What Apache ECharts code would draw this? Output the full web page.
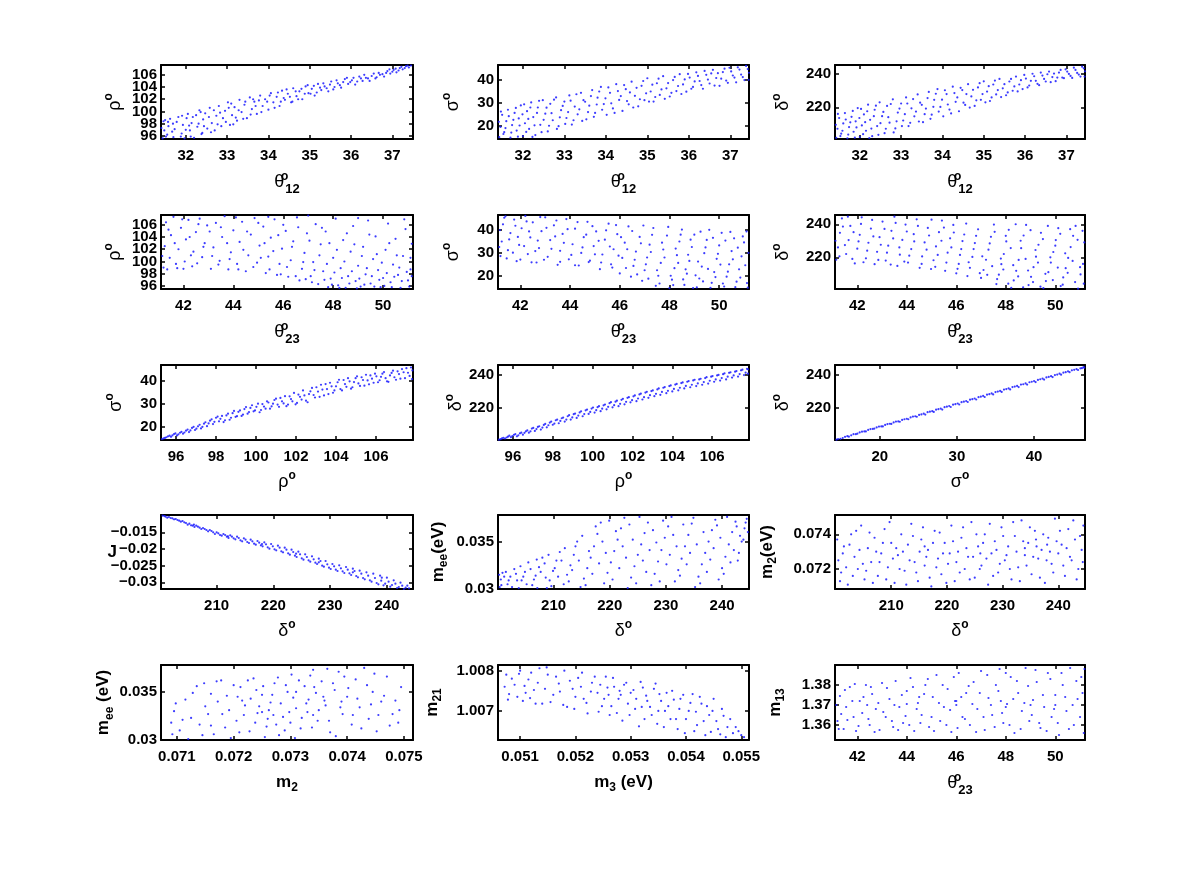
<!DOCTYPE html>
<html lang="en">
  <head>
    <meta charset="UTF-8" />
    <title>Scatter grid</title>
    <script src="https://cdn.jsdelivr.net/npm/echarts@6.0.0/dist/echarts.min.js"></script>
    <style>
      body { margin: 0; background: #fff; }
    </style>
  </head>
  <body>
    <div id="main" style="width: 1199px; height: 872px"></div>
    <script type="text/javascript">
      // tick labels
      const t12Ticks = [32, 33, 34, 35, 36, 37];
      const t23Ticks = [42, 44, 46, 48, 50];
      const rhoTicks = [96, 98, 100, 102, 104, 106];
      const rhoLabelsOdd = [96, 100, 104];   // tight vertical ρ labels are split over two axes
      const rhoLabelsEven = [98, 102, 106];
      const sigmaTicks = [20, 30, 40];
      const deltaYTicks = [220, 240];
      const deltaXTicks = [210, 220, 230, 240];
      const jTicks = [-0.03, -0.025, -0.02, -0.015];
      const meeTicks = [0.03, 0.035];
      const m2YTicks = [0.072, 0.074];
      const m2XTicks = [0.071, 0.072, 0.073, 0.074, 0.075];
      const m3Ticks = [0.051, 0.052, 0.053, 0.054, 0.055];
      const m21Ticks = [1.007, 1.008];
      const m13Ticks = [1.36, 1.37, 1.38];

      // points, [x, y]
      const t12Rho = [[31.44,95.6],[31.48,96.9],[31.46,98.4],[31.55,96.2],[31.58,97.6],[31.62,98.8],[31.7,95.8],[31.73,97.1],[31.78,98.3],[31.82,99.1],[31.9,96.4],[31.93,97.8],[31.97,95.6],[32.02,98.9],[32.05,99.6],[32.1,96.9],[32.14,98.1],[32.2,95.7],[32.25,99.4],[32.28,97.5],[32.33,100.2],[32.38,96.3],[32.42,98.7],[32.47,99.7],[32.52,97.2],[32.58,100.6],[32.63,98.1],[32.7,96.9],[32.74,99.3],[32.8,100.9],[32.86,97.6],[32.9,98.9],[32.95,100.1],[33.02,101.5],[33.07,97.8],[33.12,99.4],[33.18,100.7],[33.24,98.5],[33.3,101.9],[33.35,99.9],[33.42,101.1],[33.48,98.9],[33.55,102.3],[33.6,100.4],[33.66,101.6],[33.72,99.6],[33.8,102.6],[33.86,100.9],[33.92,102.0],[34.0,100.3],[34.06,103.0],[34.12,101.5],[34.2,102.4],[34.27,100.9],[34.33,103.4],[34.4,101.9],[34.47,102.9],[34.55,101.5],[34.6,103.8],[34.68,102.5],[34.75,103.3],[34.82,102.0],[34.9,104.1],[34.97,103.0],[35.05,103.7],[35.12,102.6],[35.2,104.5],[35.28,103.5],[35.36,104.1],[35.45,103.3],[35.52,104.9],[35.6,104.0],[35.68,104.6],[35.76,103.9],[35.85,105.3],[35.93,104.5],[36.02,105.1],[36.1,104.4],[36.2,105.7],[36.28,105.0],[36.36,105.5],[36.45,105.0],[36.55,106.2],[36.62,105.6],[36.7,106.0],[36.8,105.7],[36.88,106.6],[36.95,106.2],[37.03,106.8],[37.1,106.4],[37.18,107.1],[37.25,106.9],[37.33,107.4],[37.4,107.2],[37.45,107.5],
        [31.41,97.3],[31.52,95.9],[31.57,98.3],[31.67,96.7],[31.69,98.0],[31.88,95.9],[31.91,99.3],[32.08,97.7],[32.12,95.9],[32.17,99.1],[32.31,98.0],[32.36,99.9],[32.44,97.6],[32.56,99.1],[32.61,96.6],[32.68,100.2],[32.77,97.9],[32.83,99.8],[32.97,98.3],[33.04,100.6],[33.1,101.3],[33.21,99.0],[33.28,100.2],[33.39,98.8],[33.44,101.6],[33.57,99.5],[33.63,102.0],[33.69,100.9],[33.77,101.8],[33.83,99.9],[33.97,101.6],[34.03,102.6],[34.15,100.6],[34.23,103.1],[34.3,101.6],[34.37,102.2],[34.44,103.6],[34.52,102.4],[34.58,101.6],[34.66,103.3],[34.72,102.0],[34.8,103.7],[34.88,102.9],[34.95,104.3],[35.02,102.9],[35.1,104.2],[35.17,103.1],[35.25,103.9],[35.33,104.6],[35.41,103.8],[35.49,104.4],[35.57,103.6],[35.65,105.1],[35.73,104.3],[35.81,104.8],[35.9,105.5],[35.98,104.8],[36.06,105.5],[36.15,104.9],[36.24,105.4],[36.32,106.0],[36.41,105.4],[36.5,105.8],[36.59,105.4],[36.67,106.3],[36.76,106.1],[36.85,106.3],[36.93,106.9],[37.0,106.5],[37.08,107.0],[37.15,106.7],[37.22,107.3],[37.3,107.1],[37.37,107.5],[31.5,98.6],[32.0,97.0],[32.4,96.5],[33.15,97.9]];
      const t12Sigma = [[31.43,15.0],[31.46,19.5],[31.5,24.8],[31.55,17.2],[31.6,22.0],[31.64,27.0],[31.7,14.8],[31.74,20.3],[31.8,25.6],[31.85,17.9],[31.9,23.2],[31.95,28.9],[32.0,15.5],[32.05,21.1],[32.1,26.4],[32.15,18.6],[32.2,30.2],[32.25,23.8],[32.3,15.9],[32.36,28.0],[32.42,20.4],[32.48,31.2],[32.54,25.3],[32.6,17.5],[32.66,29.6],[32.72,22.4],[32.8,32.4],[32.86,19.8],[32.92,26.8],[33.0,30.6],[33.05,23.4],[33.12,33.3],[33.18,20.5],[33.25,28.4],[33.32,25.0],[33.4,34.4],[33.46,31.2],[33.53,22.8],[33.6,28.8],[33.67,35.6],[33.74,25.6],[33.8,32.3],[33.88,37.0],[33.95,29.5],[34.02,24.8],[34.1,34.4],[34.17,27.6],[34.25,38.2],[34.32,31.3],[34.4,26.5],[34.48,36.0],[34.55,29.4],[34.62,39.3],[34.7,33.1],[34.78,28.5],[34.86,37.5],[34.93,31.2],[35.0,40.8],[35.08,35.0],[35.15,30.6],[35.23,38.6],[35.3,33.5],[35.38,41.7],[35.46,36.4],[35.54,32.8],[35.62,40.0],[35.7,35.2],[35.78,42.6],[35.86,38.1],[35.94,34.9],[36.02,41.1],[36.1,37.0],[36.18,43.4],[36.26,39.6],[36.34,36.2],[36.42,42.3],[36.5,38.5],[36.58,44.5],[36.66,40.9],[36.74,37.5],[36.82,43.5],[36.9,39.8],[36.98,45.4],[37.06,42.0],[37.14,39.0],[37.22,44.6],[37.3,41.3],[37.38,46.2],[37.45,43.2],[37.44,40.1],
        [31.42,21.7],[31.47,26.2],[31.53,16.4],[31.58,19.0],[31.66,24.2],[31.72,17.0],[31.77,22.6],[31.83,27.8],[31.88,15.2],[31.92,20.1],[31.99,25.0],[32.03,29.4],[32.08,17.3],[32.13,23.0],[32.18,28.0],[32.23,15.1],[32.28,20.2],[32.34,25.6],[32.39,30.9],[32.45,17.2],[32.5,22.6],[32.57,27.9],[32.63,20.0],[32.69,25.5],[32.75,31.4],[32.82,18.6],[32.89,23.7],[32.96,28.7],[33.02,20.8],[33.09,26.0],[33.15,31.0],[33.22,22.4],[33.29,33.8],[33.36,27.2],[33.43,22.1],[33.5,30.5],[33.57,26.0],[33.64,33.0],[33.71,23.9],[33.78,29.3],[33.84,35.0],[33.91,27.0],[33.99,32.0],[34.06,36.8],[34.13,29.8],[34.21,25.6],[34.29,35.2],[34.36,33.0],[34.44,37.8],[34.51,30.8],[34.58,34.6],[34.66,28.0],[34.74,36.6],[34.82,31.6],[34.9,39.6],[34.97,34.2],[35.04,30.6],[35.12,38.0],[35.19,32.6],[35.27,40.6],[35.34,35.9],[35.42,31.8],[35.5,38.7],[35.58,34.4],[35.66,41.4],[35.74,37.4],[35.82,33.9],[35.9,40.3],[35.98,42.7],[36.06,36.2],[36.14,39.4],[36.22,41.8],[36.3,37.8],[36.38,44.0],[36.46,40.2],[36.54,42.9],[36.62,37.6],[36.7,43.0],[36.78,40.6],[36.86,45.0],[36.94,38.8],[37.02,43.8],[37.1,41.1],[37.18,45.6],[37.26,42.4],[37.34,40.0],[37.42,44.8]];
      const t12Delta = [[31.43,201.5],[31.46,207.0],[31.5,213.5],[31.55,204.0],[31.6,210.2],[31.64,216.5],[31.7,201.2],[31.74,208.0],[31.8,214.2],[31.85,205.2],[31.9,211.5],[31.95,219.5],[32.0,202.0],[32.05,209.0],[32.1,215.7],[32.15,205.8],[32.2,221.6],[32.25,212.4],[32.3,202.5],[32.36,218.5],[32.42,208.6],[32.48,223.0],[32.54,214.6],[32.6,204.3],[32.66,220.8],[32.72,210.7],[32.8,224.8],[32.86,207.2],[32.92,216.8],[33.0,222.3],[33.05,212.0],[33.12,226.0],[33.18,208.6],[33.25,219.4],[33.32,214.5],[33.4,227.8],[33.46,222.8],[33.53,211.0],[33.6,219.2],[33.67,229.3],[33.74,215.5],[33.8,224.5],[33.88,231.0],[33.95,220.2],[34.02,214.5],[34.1,228.0],[34.17,218.6],[34.25,232.5],[34.32,223.3],[34.4,217.6],[34.48,230.4],[34.55,221.4],[34.62,234.0],[34.7,226.6],[34.78,220.8],[34.86,232.0],[34.93,224.5],[35.0,235.7],[35.08,229.5],[35.15,223.8],[35.23,233.8],[35.3,227.8],[35.38,237.2],[35.46,231.5],[35.54,227.3],[35.62,235.6],[35.7,230.0],[35.78,238.6],[35.86,233.8],[35.94,231.0],[36.02,237.4],[36.1,233.2],[36.18,240.3],[36.26,236.0],[36.34,233.4],[36.42,239.2],[36.5,235.6],[36.58,241.6],[36.66,238.3],[36.74,235.8],[36.82,241.0],[36.9,238.0],[36.98,243.0],[37.06,240.2],[37.14,237.8],[37.22,242.6],[37.3,239.8],[37.38,244.6],[37.45,241.8],[37.44,238.6],
        [31.42,209.4],[31.47,216.0],[31.53,202.6],[31.58,205.8],[31.66,212.6],[31.72,203.5],[31.77,210.9],[31.83,217.8],[31.88,201.6],[31.92,207.8],[31.99,213.5],[32.03,219.0],[32.08,203.7],[32.13,211.0],[32.18,217.6],[32.23,201.4],[32.28,207.1],[32.34,214.6],[32.39,221.0],[32.45,203.3],[32.5,210.4],[32.57,217.2],[32.63,207.0],[32.69,214.0],[32.75,222.0],[32.82,204.8],[32.89,211.5],[32.96,219.2],[33.02,208.6],[33.09,215.8],[33.15,222.3],[33.22,210.6],[33.29,225.0],[33.36,217.4],[33.43,211.4],[33.5,221.5],[33.57,215.8],[33.64,225.6],[33.71,213.0],[33.78,220.3],[33.84,228.2],[33.91,217.4],[33.99,224.6],[34.06,230.3],[34.13,221.7],[34.21,216.3],[34.29,228.6],[34.36,226.0],[34.44,231.8],[34.51,222.8],[34.58,228.0],[34.66,219.8],[34.74,230.6],[34.82,224.2],[34.9,234.6],[34.97,228.0],[35.04,223.0],[35.12,232.8],[35.19,226.0],[35.27,236.2],[35.34,230.4],[35.42,226.2],[35.5,234.0],[35.58,229.0],[35.66,237.2],[35.74,232.6],[35.82,229.6],[35.9,236.4],[35.98,239.6],[36.06,232.0],[36.14,236.0],[36.22,238.8],[36.3,234.2],[36.38,241.0],[36.46,237.2],[36.54,240.0],[36.62,235.2],[36.7,240.4],[36.78,238.0],[36.86,242.6],[36.94,237.6],[37.02,241.6],[37.1,239.0],[37.18,244.0],[37.26,240.8],[37.34,238.6],[37.42,243.6]];
      const t23Rho = [[41.2,99.0],[41.25,102.5],[41.3,106.4],[41.45,100.6],[41.5,104.3],[41.6,107.3],[41.75,98.9],[41.8,102.0],[41.9,105.5],[42.05,100.0],[42.1,103.6],[42.2,106.8],[42.35,99.2],[42.4,101.6],[42.5,104.8],[42.65,107.0],[42.75,100.7],[42.85,103.0],[42.95,105.9],[43.1,98.8],[43.2,102.3],[43.3,106.3],[43.45,100.1],[43.55,104.0],[43.65,107.4],[43.8,98.7],[43.9,101.5],[44.0,105.1],[44.15,99.6],[44.25,103.2],[44.35,106.5],[44.5,98.4],[44.6,101.0],[44.7,104.4],[44.85,107.1],[44.95,99.8],[45.05,102.6],[45.2,105.7],[45.3,98.1],[45.4,100.8],[45.5,103.9],[45.65,106.9],[45.75,97.8],[45.85,99.6],[45.95,102.1],[46.1,105.0],[46.2,97.5],[46.3,100.2],[46.4,103.3],[46.55,107.2],[46.65,96.9],[46.75,98.8],[46.85,101.4],[46.95,104.6],[47.1,97.6],[47.2,99.9],[47.3,106.1],[47.4,96.3],[47.5,102.8],[47.6,98.4],[47.7,104.9],[47.8,95.8],[47.9,97.2],[48.0,100.6],[48.1,107.0],[48.2,96.1],[48.3,98.9],[48.4,103.5],[48.5,95.7],[48.6,97.6],[48.7,101.6],[48.8,105.8],[48.9,96.8],[49.0,99.3],[49.1,95.9],[49.2,102.4],[49.3,97.9],[49.4,106.7],[49.5,96.4],[49.6,100.4],[49.7,104.1],[49.8,98.6],[49.9,95.8],[50.0,97.3],[50.1,101.9],[50.2,106.2],[50.3,96.6],[50.4,99.5],[50.5,103.7],[50.6,97.8],[50.7,95.7],[50.8,100.9],[50.9,105.3],[51.0,96.9],[51.1,98.7],[51.15,102.9],
        [41.15,100.9],[41.35,98.7],[41.4,105.2],[41.65,103.0],[41.7,99.6],[41.95,106.9],[42.0,98.8],[42.25,104.0],[42.3,101.0],[42.55,99.7],[42.6,106.1],[42.8,102.4],[43.05,104.9],[43.15,100.9],[43.4,99.5],[43.5,105.6],[43.75,103.0],[43.85,100.4],[44.1,107.2],[44.2,98.7],[44.4,101.9],[44.55,104.9],[44.8,99.1],[45.0,106.3],[45.1,100.6],[45.25,103.0],[45.45,98.7],[45.6,101.7],[45.8,104.3],[45.9,97.9],[46.0,106.0],[46.15,99.1],[46.35,102.4],[46.5,97.6],[46.6,105.6],[46.8,99.9],[46.9,97.1],[47.05,103.4],[47.15,96.6],[47.25,98.6],[47.45,101.0],[47.55,105.5],[47.65,97.0],[47.75,99.6],[47.85,103.0],[47.95,96.2],[48.05,98.2],[48.15,101.9],[48.25,95.7],[48.35,97.3],[48.45,100.0],[48.55,104.6],[48.65,96.4],[48.75,98.4],[48.85,102.8],[48.95,95.6],[49.05,97.2],[49.15,100.9],[49.25,96.2],[49.35,98.9],[49.45,104.4],[49.55,97.6],[49.65,95.9],[49.75,101.2],[49.85,97.0],[49.95,99.8],[50.05,96.0],[50.15,98.1],[50.25,103.0],[50.35,95.8],[50.45,97.5],[50.55,101.0],[50.65,99.0],[50.75,96.8],[50.85,106.9],[50.95,98.3],[51.05,95.9],[51.1,100.6],[51.15,97.6],[49.0,107.1],[47.0,107.5],[45.4,107.3]];
      const t23Sigma = [[41.2,28.6],[41.25,35.0],[41.3,42.5],[41.4,46.0],[41.5,31.2],[41.6,38.7],[41.75,44.6],[41.85,26.4],[41.95,33.5],[42.05,40.8],[42.2,46.2],[42.3,29.5],[42.4,36.8],[42.5,43.4],[42.65,25.8],[42.75,32.1],[42.85,39.5],[43.0,45.6],[43.1,28.3],[43.2,35.6],[43.35,42.1],[43.5,24.8],[43.6,30.9],[43.7,38.3],[43.85,44.8],[43.95,27.2],[44.1,33.8],[44.2,40.6],[44.35,24.5],[44.45,30.0],[44.55,36.9],[44.7,43.6],[44.8,26.6],[44.95,33.0],[45.05,39.4],[45.2,22.9],[45.3,29.3],[45.4,35.8],[45.55,42.8],[45.65,25.0],[45.75,31.6],[45.9,38.2],[46.0,21.0],[46.1,27.8],[46.2,34.5],[46.35,41.6],[46.45,19.6],[46.55,24.3],[46.65,30.6],[46.8,37.0],[46.9,17.8],[47.0,22.4],[47.1,28.0],[47.2,33.6],[47.35,40.9],[47.45,15.6],[47.55,20.0],[47.65,25.6],[47.75,31.5],[47.9,37.6],[48.0,14.6],[48.1,18.3],[48.2,23.3],[48.3,29.0],[48.4,35.0],[48.5,40.2],[48.6,16.0],[48.7,20.9],[48.8,26.5],[48.9,32.6],[49.0,38.0],[49.1,14.9],[49.2,18.8],[49.3,24.0],[49.4,29.9],[49.5,35.7],[49.6,40.1],[49.7,16.9],[49.8,21.6],[49.9,27.4],[50.0,33.3],[50.1,38.8],[50.2,15.3],[50.3,19.6],[50.4,25.0],[50.5,30.8],[50.6,36.4],[50.7,17.4],[50.8,22.8],[50.9,28.5],[51.0,34.6],[51.1,39.4],[51.15,14.8],
        [41.15,32.6],[41.18,40.0],[41.35,45.4],[41.45,27.6],[41.55,35.9],[41.7,30.1],[41.8,41.9],[41.9,37.0],[42.0,27.1],[42.15,33.0],[42.25,43.8],[42.35,39.4],[42.45,25.9],[42.6,30.8],[42.7,35.4],[42.8,45.7],[42.95,27.0],[43.05,41.0],[43.25,31.8],[43.4,37.2],[43.45,44.2],[43.6,26.1],[43.75,34.4],[43.9,40.4],[44.05,29.1],[44.2,24.6],[44.3,43.5],[44.5,32.4],[44.65,38.0],[44.75,26.0],[44.9,41.7],[45.0,29.4],[45.15,35.3],[45.25,25.8],[45.45,39.9],[45.6,32.8],[45.7,23.6],[45.85,42.2],[45.95,28.8],[46.05,36.9],[46.25,23.4],[46.3,31.6],[46.5,39.6],[46.6,27.0],[46.7,20.6],[46.85,34.2],[46.95,42.0],[47.05,25.0],[47.15,18.7],[47.25,30.4],[47.3,37.9],[47.5,22.4],[47.6,16.6],[47.7,34.5],[47.8,28.0],[47.95,41.4],[48.05,20.0],[48.15,15.9],[48.25,31.9],[48.35,25.6],[48.45,38.0],[48.55,18.4],[48.65,22.8],[48.75,29.2],[48.85,35.8],[48.95,14.6],[49.05,20.2],[49.15,26.2],[49.25,39.3],[49.35,17.5],[49.45,32.4],[49.55,23.0],[49.65,14.7],[49.75,36.6],[49.85,19.4],[49.95,29.6],[50.05,24.9],[50.15,16.6],[50.25,35.4],[50.35,21.8],[50.45,39.2],[50.55,27.2],[50.65,15.0],[50.75,32.3],[50.85,19.2],[50.95,37.2],[51.05,24.6],[51.12,16.8],[51.18,30.0]];
      const t23Delta = [[41.15,218.5],[41.22,226.0],[41.3,234.8],[41.38,243.5],[41.55,222.0],[41.65,230.4],[41.72,239.0],[41.9,216.3],[42.0,225.2],[42.1,233.6],[42.18,244.2],[42.35,219.4],[42.45,228.8],[42.55,237.4],[42.7,215.8],[42.8,223.3],[42.9,232.2],[43.02,241.6],[43.15,218.0],[43.25,227.0],[43.38,236.0],[43.5,244.6],[43.62,214.8],[43.72,221.6],[43.82,230.5],[43.95,239.8],[44.05,216.8],[44.18,225.0],[44.28,234.0],[44.4,243.0],[44.52,213.6],[44.62,220.5],[44.72,229.0],[44.85,237.8],[44.98,212.9],[45.08,218.2],[45.18,226.6],[45.3,235.2],[45.42,242.2],[45.55,211.8],[45.65,222.8],[45.75,231.5],[45.88,239.6],[46.0,210.3],[46.1,216.0],[46.2,225.0],[46.32,233.8],[46.45,208.6],[46.55,213.6],[46.65,220.2],[46.75,228.6],[46.88,236.9],[47.0,207.5],[47.1,212.3],[47.2,218.5],[47.3,224.6],[47.4,232.4],[47.52,239.8],[47.62,203.8],[47.72,209.5],[47.82,215.8],[47.92,222.0],[48.02,229.6],[48.12,236.6],[48.22,201.5],[48.32,206.0],[48.42,211.8],[48.52,218.4],[48.62,225.5],[48.72,233.2],[48.82,239.6],[48.92,203.2],[49.02,208.2],[49.12,214.0],[49.22,220.4],[49.32,227.6],[49.42,234.8],[49.52,201.3],[49.62,205.6],[49.72,211.0],[49.82,216.8],[49.92,223.2],[50.02,230.4],[50.12,237.6],[50.22,202.6],[50.32,207.8],[50.42,213.4],[50.52,219.6],[50.62,226.2],[50.72,233.0],[50.82,239.0],[50.92,201.0],[51.02,209.6],[51.12,216.0],[51.17,229.0],
        [41.12,230.0],[41.28,220.6],[41.42,238.6],[41.5,227.4],[41.62,244.6],[41.8,219.0],[41.85,235.2],[42.05,229.6],[42.15,240.2],[42.25,217.0],[42.4,224.0],[42.6,242.6],[42.65,232.6],[42.85,218.4],[42.95,227.6],[43.1,237.2],[43.2,222.8],[43.35,215.6],[43.45,231.4],[43.55,240.8],[43.7,226.0],[43.9,217.4],[44.0,235.6],[44.1,221.0],[44.3,229.6],[44.45,239.0],[44.6,216.0],[44.8,224.6],[44.9,233.2],[45.0,242.8],[45.15,214.2],[45.25,221.4],[45.4,230.0],[45.5,238.0],[45.6,216.8],[45.8,226.0],[45.9,235.0],[46.05,213.0],[46.15,221.4],[46.25,229.8],[46.4,240.4],[46.5,217.0],[46.7,225.0],[46.8,233.0],[46.95,210.4],[47.05,220.6],[47.25,209.4],[47.35,228.4],[47.45,214.6],[47.55,235.4],[47.65,206.8],[47.8,219.2],[47.9,212.6],[48.0,233.0],[48.1,204.0],[48.2,225.6],[48.3,215.2],[48.4,240.0],[48.5,208.4],[48.6,230.0],[48.7,201.8],[48.8,219.0],[48.9,212.0],[49.0,236.4],[49.1,205.0],[49.2,224.4],[49.3,216.8],[49.4,202.2],[49.5,231.0],[49.6,210.0],[49.7,239.0],[49.8,220.0],[49.9,206.2],[50.0,227.0],[50.1,213.8],[50.2,234.2],[50.3,203.4],[50.4,222.4],[50.5,210.6],[50.6,237.0],[50.7,217.8],[50.8,205.0],[50.9,230.6],[51.0,214.0],[51.1,236.0],[51.15,204.0]];
      const rhoSigma = [[95.3,14.4],[95.45,14.9],[95.6,15.6],[95.75,15.4],[95.9,16.6],[96.05,16.0],[96.2,17.2],[96.35,16.8],[96.5,18.1],[96.65,17.5],[96.8,19.3],[96.95,18.4],[97.1,20.0],[97.25,19.1],[97.4,21.2],[97.55,20.1],[97.7,22.5],[97.85,21.0],[98.0,23.8],[98.15,22.2],[98.3,24.6],[98.45,22.7],[98.6,25.6],[98.75,23.8],[98.9,26.8],[99.05,24.5],[99.2,27.0],[99.35,25.2],[99.5,28.5],[99.65,26.3],[99.8,29.3],[99.95,27.0],[100.1,30.0],[100.25,27.2],[100.4,28.7],[100.55,31.0],[100.7,27.8],[100.85,30.0],[101.0,32.2],[101.15,28.6],[101.3,31.0],[101.45,33.3],[101.6,29.6],[101.75,32.0],[101.9,34.7],[102.05,30.3],[102.2,33.0],[102.35,35.8],[102.5,31.3],[102.65,34.2],[102.8,36.9],[102.95,32.7],[103.1,35.3],[103.25,38.3],[103.4,33.6],[103.55,36.4],[103.7,39.2],[103.85,34.8],[104.0,37.6],[104.15,40.5],[104.3,35.8],[104.45,38.6],[104.6,41.2],[104.75,36.6],[104.9,39.5],[105.05,42.0],[105.2,37.8],[105.35,40.4],[105.5,42.7],[105.65,38.5],[105.8,41.0],[105.95,43.2],[106.1,39.4],[106.25,41.8],[106.4,43.9],[106.55,39.8],[106.7,42.4],[106.85,44.5],[107.0,40.5],[107.15,43.0],[107.3,45.2],[107.45,41.2],[107.6,43.6],[107.75,45.9],[107.8,40.8],
        [95.38,14.7],[95.52,15.2],[95.68,15.9],[95.82,16.0],[95.97,16.9],[96.12,16.5],[96.27,17.6],[96.42,17.3],[96.58,18.6],[96.72,18.2],[96.88,19.8],[97.02,19.0],[97.18,20.7],[97.32,19.8],[97.47,21.8],[97.63,21.3],[97.78,23.1],[97.92,22.0],[98.08,24.3],[98.22,23.3],[98.38,21.9],[98.52,24.8],[98.68,22.9],[98.83,25.8],[98.98,24.2],[99.12,26.4],[99.28,24.6],[99.42,27.6],[99.58,25.6],[99.72,28.1],[99.88,26.6],[100.02,28.6],[100.18,26.2],[100.32,29.8],[100.48,27.8],[100.62,30.5],[100.78,28.8],[100.92,31.6],[101.08,29.6],[101.22,32.5],[101.38,30.1],[101.52,28.9],[101.68,33.2],[101.82,31.0],[101.98,29.7],[102.12,34.0],[102.28,31.8],[102.42,33.6],[102.58,30.6],[102.72,35.4],[102.88,33.8],[103.02,37.2],[103.18,33.0],[103.32,36.2],[103.48,38.6],[103.62,34.2],[103.78,37.6],[103.92,35.8],[104.08,39.4],[104.22,36.4],[104.38,40.4],[104.52,37.4],[104.68,39.8],[104.82,37.2],[104.98,41.2],[105.12,38.9],[105.28,41.6],[105.42,37.9],[105.58,40.2],[105.72,42.4],[105.88,39.2],[106.02,42.0],[106.18,40.3],[106.32,43.2],[106.48,41.2],[106.62,39.6],[106.78,43.5],[106.92,41.6],[107.08,44.2],[107.22,41.0],[107.38,43.8],[107.52,45.6],[107.68,42.2],[107.82,44.6]];
      const rhoDelta = [[95.3,201.0],[95.45,201.8],[95.6,201.7],[95.75,202.8],[95.9,202.5],[96.05,203.9],[96.2,203.0],[96.35,204.8],[96.5,204.0],[96.65,206.0],[96.8,205.2],[96.95,207.6],[97.1,206.2],[97.25,208.6],[97.4,207.0],[97.55,209.8],[97.7,208.4],[97.85,211.2],[98.0,209.9],[98.15,212.6],[98.3,210.8],[98.45,213.8],[98.6,211.8],[98.75,215.0],[98.9,213.0],[99.05,216.2],[99.2,214.0],[99.35,217.3],[99.5,215.0],[99.65,218.5],[99.8,216.4],[99.95,219.6],[100.1,217.2],[100.25,220.4],[100.4,218.0],[100.55,221.5],[100.7,219.1],[100.85,222.8],[101.0,220.3],[101.15,223.7],[101.3,221.0],[101.45,224.8],[101.6,222.1],[101.75,226.0],[101.9,223.3],[102.05,226.9],[102.2,224.0],[102.35,228.0],[102.5,225.0],[102.65,229.1],[102.8,226.0],[102.95,230.0],[103.1,227.0],[103.25,231.0],[103.4,227.8],[103.55,232.0],[103.7,228.8],[103.85,233.0],[104.0,229.8],[104.15,233.9],[104.3,230.5],[104.45,234.8],[104.6,231.6],[104.75,235.6],[104.9,232.3],[105.05,236.4],[105.2,233.0],[105.35,237.0],[105.5,233.8],[105.65,237.8],[105.8,234.5],[105.95,238.6],[106.1,235.6],[106.25,239.4],[106.4,236.3],[106.55,240.1],[106.7,237.0],[106.85,240.9],[107.0,238.1],[107.15,241.6],[107.3,238.7],[107.45,242.4],[107.6,239.6],[107.75,243.3],[107.8,240.4],
        [95.38,201.3],[95.52,202.1],[95.68,202.3],[95.82,203.4],[95.97,203.2],[96.12,204.3],[96.27,203.6],[96.42,205.2],[96.58,205.1],[96.72,206.5],[96.88,206.0],[97.02,208.0],[97.18,207.3],[97.32,209.0],[97.48,208.2],[97.62,210.4],[97.78,209.6],[97.92,211.8],[98.08,210.6],[98.22,213.0],[98.38,212.2],[98.52,214.2],[98.68,213.0],[98.82,215.6],[98.98,214.3],[99.12,216.6],[99.28,215.4],[99.42,217.9],[99.58,216.3],[99.72,219.0],[99.88,217.6],[100.02,220.2],[100.18,218.6],[100.32,221.0],[100.48,219.5],[100.62,222.0],[100.78,220.6],[100.92,223.4],[101.08,221.6],[101.22,224.3],[101.38,222.4],[101.52,225.4],[101.68,223.6],[101.82,226.4],[101.98,224.6],[102.12,227.4],[102.28,225.6],[102.42,228.5],[102.58,226.4],[102.72,229.6],[102.88,227.6],[103.02,230.4],[103.18,228.4],[103.32,231.6],[103.48,229.5],[103.62,232.4],[103.78,230.2],[103.92,233.4],[104.08,231.3],[104.22,234.3],[104.38,232.0],[104.52,235.2],[104.68,233.1],[104.82,236.0],[104.98,233.8],[105.12,236.8],[105.28,234.6],[105.42,237.4],[105.58,235.4],[105.72,238.3],[105.88,236.2],[106.02,239.0],[106.18,237.0],[106.32,239.7],[106.48,237.8],[106.62,240.6],[106.78,238.6],[106.92,241.2],[107.08,239.4],[107.22,242.0],[107.38,240.2],[107.52,242.8],[107.68,241.0],[107.8,243.0]];
      const sigmaDelta = [[14.4,201.0],[14.9,201.5],[15.5,202.7],[16.0,202.8],[16.6,204.3],[17.1,204.6],[17.7,205.8],[18.2,205.9],[18.8,207.3],[19.3,207.6],[19.9,208.8],[20.4,208.9],[21.0,210.3],[21.5,210.4],[22.1,211.8],[22.6,211.7],[23.2,213.2],[23.7,213.2],[24.3,214.8],[24.8,214.7],[25.4,216.1],[25.9,216.0],[26.5,217.7],[27.0,217.6],[27.6,219.2],[28.1,219.0],[28.7,220.7],[29.2,220.5],[29.8,222.2],[30.3,222.0],[30.9,223.7],[31.4,223.5],[32.0,225.2],[32.5,225.0],[33.1,226.7],[33.6,226.5],[34.2,228.2],[34.7,228.0],[35.3,229.7],[35.8,229.5],[36.4,231.2],[36.9,231.0],[37.5,232.7],[38.0,232.4],[38.6,234.1],[39.1,233.9],[39.7,235.6],[40.2,235.4],[40.8,237.1],[41.3,236.9],[41.9,238.5],[42.4,238.4],[43.0,239.9],[43.5,239.8],[44.1,241.3],[44.6,241.3],[45.2,242.7],[45.7,242.6],[46.2,243.7],[46.5,244.0],
        [14.6,201.4],[15.2,202.0],[15.8,203.1],[16.3,203.6],[16.9,204.3],[17.4,205.3],[18.0,205.9],[18.5,206.8],[19.1,207.4],[19.6,208.3],[20.2,208.9],[20.7,209.8],[21.3,210.5],[21.8,211.3],[22.4,211.9],[22.9,212.8],[23.5,213.5],[24.0,214.3],[24.6,215.0],[25.1,215.8],[25.7,216.5],[26.2,217.4],[26.8,218.0],[27.3,218.9],[27.9,219.6],[28.4,220.4],[29.0,221.1],[29.5,221.9],[30.1,222.6],[30.6,223.4],[31.2,224.1],[31.7,224.9],[32.3,225.6],[32.8,226.4],[33.4,227.1],[33.9,227.9],[34.5,228.6],[35.0,229.4],[35.6,230.1],[36.1,230.9],[36.7,231.6],[37.2,232.4],[37.8,233.1],[38.3,233.9],[38.9,234.6],[39.4,235.3],[40.0,236.0],[40.5,236.7],[41.1,237.5],[41.6,238.2],[42.2,238.9],[42.7,239.6],[43.3,240.4],[43.8,241.0],[44.4,241.8],[44.9,242.4],[45.5,243.1],[46.0,243.6],[46.4,244.3]];
      const deltaJ = [[200.5,-0.0100],[201.0,-0.0103],[201.6,-0.0104],[202.2,-0.0108],[202.8,-0.0110],[203.4,-0.0115],[204.0,-0.0116],[204.6,-0.0122],[205.2,-0.0124],[205.8,-0.0130],[206.0,-0.0127],[206.4,-0.0130],[207.0,-0.0136],[207.6,-0.0137],[208.2,-0.0143],[208.8,-0.0143],[209.4,-0.0150],[210.0,-0.0150],[210.6,-0.0158],[211.2,-0.0155],[211.8,-0.0163],[212.0,-0.0162],[212.4,-0.0159],[213.0,-0.0168],[213.6,-0.0163],[214.2,-0.0174],[214.8,-0.0168],[215.4,-0.0179],[216.0,-0.0172],[216.6,-0.0184],[217.2,-0.0176],[217.8,-0.0189],[218.0,-0.0185],[218.4,-0.0180],[219.0,-0.0195],[219.6,-0.0185],[220.2,-0.0201],[220.8,-0.0190],[221.4,-0.0207],[222.0,-0.0196],[222.6,-0.0213],[223.2,-0.0202],[223.8,-0.0220],[224.0,-0.0214],[224.4,-0.0208],[225.0,-0.0228],[225.6,-0.0216],[226.2,-0.0234],[226.8,-0.0222],[227.4,-0.0241],[228.0,-0.0229],[228.0,-0.0240],[228.6,-0.0250],[229.2,-0.0236],[229.8,-0.0256],[230.4,-0.0245],[231.0,-0.0262],[231.6,-0.0249],[232.2,-0.0267],[232.8,-0.0254],[233.4,-0.0273],[234.0,-0.0259],[234.0,-0.0270],[234.6,-0.0281],[235.2,-0.0265],[235.8,-0.0287],[236.4,-0.0270],[237.0,-0.0294],[237.6,-0.0274],[238.2,-0.0302],[238.8,-0.0280],[239.0,-0.0295],[239.4,-0.0309],[240.0,-0.0286],[240.6,-0.0313],[241.2,-0.0294],[241.8,-0.0317],[242.4,-0.0301],[243.0,-0.0320],[243.6,-0.0310],[244.0,-0.0322],
        [200.8,-0.0101],[201.3,-0.0106],[201.9,-0.0107],[202.5,-0.0111],[203.1,-0.0113],[203.7,-0.0118],[204.3,-0.0120],[204.9,-0.0127],[205.5,-0.0129],[206.1,-0.0134],[206.7,-0.0133],[207.3,-0.0140],[207.9,-0.0140],[208.5,-0.0147],[209.1,-0.0146],[209.7,-0.0155],[210.3,-0.0153],[210.9,-0.0160],[211.5,-0.0158],[212.1,-0.0167],[212.7,-0.0163],[213.3,-0.0171],[213.9,-0.0167],[214.5,-0.0177],[215.1,-0.0172],[215.7,-0.0182],[216.3,-0.0177],[216.9,-0.0187],[217.5,-0.0181],[218.1,-0.0192],[218.7,-0.0186],[219.3,-0.0199],[219.9,-0.0192],[220.5,-0.0204],[221.1,-0.0196],[221.7,-0.0210],[222.3,-0.0202],[222.9,-0.0217],[223.5,-0.0209],[224.1,-0.0224],[224.7,-0.0216],[225.3,-0.0232],[225.9,-0.0224],[226.5,-0.0238],[227.1,-0.0231],[227.7,-0.0245],[228.3,-0.0236],[228.9,-0.0253],[229.5,-0.0246],[230.1,-0.0260],[230.7,-0.0252],[231.3,-0.0266],[231.9,-0.0258],[232.5,-0.0272],[233.1,-0.0262],[233.7,-0.0278],[234.3,-0.0266],[234.9,-0.0285],[235.5,-0.0274],[236.1,-0.0291],[236.7,-0.0280],[237.3,-0.0298],[237.9,-0.0287],[238.5,-0.0306],[239.1,-0.0286],[239.7,-0.0304],[240.3,-0.0298],[240.9,-0.0308],[241.5,-0.0304],[242.1,-0.0314],[242.7,-0.0310],[243.3,-0.0316],[243.9,-0.0318]];
      const deltaMee = [[200.4,0.0302],[200.6,0.0310],[200.9,0.0317],[201.2,0.0313],[201.8,0.0305],[202.3,0.0313],[203.0,0.0321],[203.8,0.0301],[204.3,0.0309],[204.9,0.0318],[205.5,0.0328],[206.2,0.0304],[206.8,0.0314],[207.0,0.0331],[207.4,0.0323],[208.0,0.0333],[208.8,0.0301],[209.3,0.0309],[209.9,0.0319],[210.5,0.0330],[211.1,0.0339],[211.8,0.0305],[212.4,0.0315],[213.0,0.0325],[213.6,0.0336],[214.2,0.0350],[214.8,0.0302],[215.4,0.0311],[216.0,0.0322],[216.6,0.0333],[217.2,0.0345],[217.8,0.0358],[218.4,0.0370],[219.0,0.0306],[219.6,0.0317],[220.2,0.0328],[220.8,0.0340],[221.4,0.0352],[222.0,0.0364],[222.6,0.0375],[223.2,0.0301],[223.8,0.0312],[224.4,0.0324],[225.0,0.0336],[225.6,0.0347],[226.2,0.0359],[226.8,0.0370],[227.4,0.0304],[228.0,0.0316],[228.6,0.0329],[229.2,0.0341],[229.8,0.0354],[230.4,0.0366],[231.0,0.0376],[231.6,0.0308],[232.2,0.0320],[232.8,0.0332],[233.4,0.0345],[234.0,0.0357],[234.6,0.0369],[235.2,0.0302],[235.8,0.0313],[236.4,0.0326],[237.0,0.0338],[237.6,0.0350],[238.2,0.0362],[238.8,0.0373],[239.4,0.0310],[240.0,0.0322],[240.6,0.0334],[241.2,0.0347],[241.8,0.0360],[242.4,0.0371],[242.8,0.0330],[243.0,0.0338],[243.5,0.0350],[244.0,0.0364],[244.4,0.0374],
        [200.3,0.0315],[200.7,0.0304],[201.5,0.0318],[202.0,0.0309],[202.6,0.0302],[203.3,0.0316],[203.5,0.0309],[204.1,0.0324],[204.6,0.0313],[205.2,0.0305],[205.9,0.0321],[206.5,0.0310],[207.1,0.0301],[207.7,0.0318],[208.4,0.0327],[208.6,0.0312],[209.1,0.0336],[209.6,0.0303],[210.2,0.0322],[210.8,0.0313],[211.4,0.0330],[212.0,0.0343],[212.7,0.0308],[213.3,0.0320],[213.9,0.0345],[214.5,0.0330],[215.1,0.0356],[215.7,0.0304],[216.3,0.0340],[216.9,0.0316],[217.5,0.0366],[218.1,0.0327],[218.7,0.0350],[219.3,0.0338],[219.9,0.0372],[220.5,0.0310],[221.1,0.0361],[221.7,0.0322],[222.3,0.0345],[222.9,0.0333],[223.5,0.0368],[224.1,0.0352],[224.7,0.0306],[225.3,0.0376],[225.9,0.0330],[226.5,0.0318],[227.1,0.0341],[227.7,0.0362],[228.3,0.0349],[228.9,0.0308],[229.5,0.0372],[230.1,0.0326],[230.7,0.0336],[231.3,0.0357],[231.9,0.0345],[232.5,0.0314],[233.1,0.0368],[233.7,0.0326],[234.3,0.0338],[234.9,0.0375],[235.5,0.0347],[236.1,0.0306],[236.7,0.0360],[237.3,0.0318],[237.9,0.0331],[238.5,0.0343],[239.1,0.0367],[239.7,0.0354],[240.3,0.0316],[240.9,0.0376],[241.5,0.0328],[242.1,0.0341],[242.6,0.0366],[243.2,0.0356],[243.8,0.0352],[244.2,0.0370],[244.6,0.0360]];
      const deltaM2 = [[200.5,0.0725],[201.0,0.0718],[201.5,0.0733],[202.2,0.0711],[202.8,0.0740],[203.4,0.0727],[204.0,0.0720],[204.6,0.0745],[205.2,0.0714],[205.8,0.0732],[206.4,0.0724],[207.0,0.0738],[207.6,0.0716],[208.2,0.0729],[208.8,0.0743],[209.4,0.0721],[210.0,0.0735],[210.3,0.0726],[210.6,0.0712],[211.2,0.0728],[211.8,0.0740],[212.4,0.0719],[213.0,0.0734],[213.6,0.0746],[214.2,0.0724],[214.8,0.0713],[215.4,0.0737],[216.0,0.0722],[216.6,0.0731],[217.2,0.0710],[217.8,0.0742],[218.4,0.0726],[219.0,0.0717],[219.6,0.0735],[220.2,0.0723],[220.5,0.0729],[220.8,0.0745],[221.4,0.0713],[222.0,0.0730],[222.6,0.0738],[223.2,0.0720],[223.8,0.0727],[224.4,0.0747],[225.0,0.0715],[225.6,0.0733],[226.2,0.0722],[226.8,0.0740],[227.4,0.0711],[228.0,0.0729],[228.6,0.0736],[229.2,0.0718],[229.8,0.0744],[230.4,0.0725],[230.7,0.0728],[231.0,0.0733],[231.6,0.0714],[232.2,0.0739],[232.8,0.0721],[233.4,0.0748],[234.0,0.0728],[234.6,0.0735],[235.2,0.0717],[235.8,0.0742],[236.4,0.0726],[237.0,0.0731],[237.6,0.0712],[238.2,0.0738],[238.5,0.0730],[238.8,0.0723],[239.4,0.0749],[240.0,0.0729],[240.6,0.0734],[241.2,0.0716],[241.8,0.0743],[242.4,0.0725],[243.0,0.0737],[243.6,0.0720],[244.2,0.0731],[244.5,0.0745],
        [200.3,0.0737],[200.8,0.0713],[201.3,0.0729],[201.9,0.0721],[202.5,0.0734],[203.1,0.0716],[203.7,0.0742],[204.3,0.0731],[204.9,0.0723],[205.5,0.0719],[206.1,0.0741],[206.7,0.0712],[207.3,0.0730],[207.9,0.0724],[208.5,0.0735],[209.1,0.0714],[209.7,0.0747],[210.9,0.0732],[211.5,0.0720],[212.1,0.0730],[212.7,0.0711],[213.3,0.0725],[213.9,0.0739],[214.5,0.0718],[215.1,0.0730],[215.7,0.0744],[216.3,0.0727],[216.9,0.0715],[217.5,0.0735],[218.1,0.0721],[218.7,0.0741],[219.3,0.0729],[219.9,0.0712],[221.1,0.0736],[221.7,0.0724],[222.3,0.0718],[222.9,0.0744],[223.5,0.0732],[224.1,0.0714],[224.7,0.0727],[225.3,0.0740],[225.9,0.0720],[226.5,0.0735],[227.1,0.0726],[227.7,0.0746],[228.3,0.0716],[228.9,0.0731],[229.5,0.0723],[230.1,0.0739],[231.3,0.0720],[231.9,0.0747],[232.5,0.0730],[233.1,0.0713],[233.7,0.0736],[234.3,0.0722],[234.9,0.0744],[235.5,0.0727],[236.1,0.0733],[236.7,0.0715],[237.3,0.0740],[237.9,0.0725],[239.1,0.0718],[239.7,0.0736],[240.3,0.0742],[240.9,0.0722],[241.5,0.0732],[242.1,0.0727],[242.7,0.0748],[243.3,0.0714],[243.9,0.0739],[244.4,0.0724],[236.0,0.0737],[234.0,0.0732],[238.0,0.0734],[226.0,0.0729],[216.0,0.0733]];
      const m2Mee = [[0.0709,0.0318],[0.07095,0.0330],[0.07105,0.0310],[0.07115,0.0342],[0.07125,0.0323],[0.07135,0.0356],[0.07145,0.0305],[0.0715,0.0335],[0.0716,0.0315],[0.0716,0.0348],[0.0717,0.0361],[0.0718,0.0327],[0.07188,0.0346],[0.07195,0.0302],[0.07205,0.0320],[0.07212,0.0355],[0.07215,0.0341],[0.0722,0.0336],[0.07228,0.0309],[0.07235,0.0364],[0.0724,0.0352],[0.07242,0.0328],[0.0725,0.0347],[0.07258,0.0314],[0.0726,0.0322],[0.07265,0.0339],[0.07272,0.0359],[0.0728,0.0305],[0.07287,0.0324],[0.07295,0.0350],[0.073,0.0318],[0.07302,0.0368],[0.0731,0.0333],[0.07318,0.0312],[0.07325,0.0356],[0.0733,0.0329],[0.07332,0.0342],[0.0734,0.0373],[0.07345,0.0349],[0.07348,0.0320],[0.07355,0.0361],[0.07362,0.0336],[0.0737,0.0308],[0.07378,0.0352],[0.07385,0.0371],[0.0739,0.0340],[0.07392,0.0327],[0.074,0.0345],[0.07408,0.0316],[0.07415,0.0363],[0.07422,0.0334],[0.0743,0.0375],[0.07438,0.0322],[0.07445,0.0350],[0.07452,0.0309],[0.0746,0.0340],[0.0747,0.0366],[0.0748,0.0327],[0.0749,0.0318],[0.07495,0.0355],
        [0.07092,0.0306],[0.07098,0.0338],[0.0711,0.0321],[0.0712,0.0301],[0.07128,0.0349],[0.0714,0.0316],[0.07148,0.0359],[0.07155,0.0327],[0.07165,0.0306],[0.07172,0.0340],[0.07178,0.0362],[0.07185,0.0313],[0.07192,0.0331],[0.072,0.0357],[0.07207,0.0345],[0.0721,0.0308],[0.07218,0.0326],[0.07225,0.0362],[0.0723,0.0343],[0.07238,0.0318],[0.07245,0.0335],[0.07252,0.0356],[0.07255,0.0303],[0.07262,0.0331],[0.07268,0.0347],[0.07275,0.0316],[0.07278,0.0365],[0.07283,0.0338],[0.0729,0.0310],[0.07292,0.0357],[0.07298,0.0329],[0.07305,0.0344],[0.07308,0.0302],[0.07315,0.0362],[0.0732,0.0323],[0.07328,0.0338],[0.07335,0.0367],[0.07338,0.0313],[0.07342,0.0355],[0.0735,0.0331],[0.07358,0.0345],[0.07365,0.0374],[0.07368,0.0320],[0.07375,0.0359],[0.0738,0.0304],[0.07388,0.0334],[0.07395,0.0366],[0.07402,0.0354],[0.0741,0.0326],[0.07418,0.0343],[0.07425,0.0312],[0.07435,0.0357],[0.07442,0.0337],[0.07448,0.0369],[0.07455,0.0326],[0.07465,0.0346],[0.07475,0.0315],[0.07485,0.0341],[0.07492,0.0331],[0.0727,0.0326],[0.0731,0.0350],[0.0734,0.0326],[0.0736,0.0341],[0.0725,0.0329]];
      const m3M21 = [[0.05075,1.0079],[0.0508,1.00742],[0.0509,1.00765],[0.051,1.008],[0.05105,1.00725],[0.0511,1.00745],[0.05115,1.00778],[0.05125,1.00752],[0.05135,1.00806],[0.0514,1.00718],[0.0515,1.0079],[0.0516,1.0074],[0.0517,1.00768],[0.0518,1.008],[0.05185,1.0071],[0.05195,1.00755],[0.052,1.00735],[0.05205,1.00782],[0.05215,1.0073],[0.05222,1.00694],[0.0523,1.0077],[0.0524,1.00745],[0.05248,1.00712],[0.05255,1.00785],[0.0526,1.0074],[0.05262,1.0069],[0.0527,1.0076],[0.05278,1.0073],[0.0528,1.0075],[0.05285,1.00676],[0.05292,1.0077],[0.053,1.00745],[0.05308,1.00705],[0.05315,1.00662],[0.0532,1.0071],[0.05322,1.00758],[0.0533,1.00725],[0.05338,1.0069],[0.05345,1.00768],[0.0535,1.007],[0.05352,1.00742],[0.0536,1.0066],[0.05368,1.00712],[0.05375,1.0075],[0.05382,1.0068],[0.0539,1.0073],[0.05398,1.00645],[0.05405,1.007],[0.05412,1.00742],[0.0542,1.00665],[0.05428,1.00718],[0.05435,1.0064],[0.05442,1.0069],[0.0545,1.0073],[0.05458,1.00655],[0.05465,1.00705],[0.05472,1.00635],[0.0548,1.0068],[0.0549,1.0066],[0.055,1.0064],
        [0.05072,1.0076],[0.05078,1.00728],[0.05085,1.0078],[0.05095,1.00735],[0.05098,1.00792],[0.05108,1.00762],[0.05118,1.00732],[0.0512,1.00795],[0.05128,1.00718],[0.05132,1.0077],[0.05145,1.00755],[0.05148,1.00808],[0.05155,1.00722],[0.05165,1.00785],[0.05172,1.00748],[0.05178,1.00715],[0.0519,1.00775],[0.05198,1.00705],[0.0521,1.0076],[0.05212,1.00795],[0.0522,1.0072],[0.05228,1.00748],[0.05235,1.00785],[0.05242,1.00698],[0.05245,1.00765],[0.05252,1.0073],[0.05258,1.00758],[0.05265,1.00712],[0.05268,1.00782],[0.05275,1.00695],[0.05282,1.0074],[0.05288,1.00765],[0.05295,1.00718],[0.05298,1.0069],[0.05305,1.00752],[0.0531,1.0073],[0.05318,1.00772],[0.05325,1.0068],[0.05328,1.00738],[0.05335,1.0071],[0.05342,1.00755],[0.05348,1.00668],[0.05355,1.00725],[0.05362,1.007],[0.05365,1.00745],[0.05372,1.0068],[0.05378,1.00728],[0.05385,1.00655],[0.05388,1.00705],[0.05395,1.0074],[0.054,1.0068],[0.05408,1.0072],[0.05415,1.0065],[0.05418,1.00698],[0.05425,1.00735],[0.05432,1.00675],[0.05438,1.00712],[0.05445,1.00648],[0.05448,1.007],[0.05455,1.00675],[0.05462,1.00642],[0.05468,1.00688],[0.05475,1.0066],[0.05485,1.00645],[0.05495,1.0065],[0.05505,1.00635]];
      const t23M13 = [[41.2,1.362],[41.3,1.3745],[41.45,1.358],[41.55,1.369],[41.7,1.379],[41.85,1.364],[41.95,1.357],[42.1,1.372],[42.2,1.366],[42.35,1.38],[42.4,1.37],[42.5,1.36],[42.6,1.3755],[42.75,1.368],[42.9,1.3575],[43.0,1.381],[43.15,1.364],[43.3,1.373],[43.45,1.359],[43.55,1.382],[43.7,1.369],[43.85,1.361],[44.0,1.377],[44.15,1.3835],[44.3,1.357],[44.45,1.371],[44.5,1.374],[44.6,1.365],[44.75,1.38],[44.9,1.359],[45.05,1.374],[45.2,1.385],[45.35,1.362],[45.5,1.369],[45.65,1.378],[45.8,1.3565],[45.95,1.372],[46.0,1.37],[46.1,1.386],[46.25,1.364],[46.4,1.376],[46.55,1.36],[46.7,1.3815],[46.85,1.368],[47.0,1.387],[47.15,1.3575],[47.3,1.3735],[47.45,1.365],[47.6,1.38],[47.75,1.388],[47.8,1.372],[47.9,1.361],[48.05,1.3705],[48.2,1.384],[48.35,1.356],[48.5,1.376],[48.65,1.367],[48.8,1.3885],[48.95,1.362],[49.0,1.37],[49.1,1.3725],[49.25,1.3815],[49.4,1.3585],[49.55,1.369],[49.7,1.386],[49.85,1.364],[50.0,1.375],[50.15,1.355],[50.3,1.38],[50.45,1.367],[50.6,1.3885],[50.75,1.36],[50.9,1.373],[51.05,1.384],[51.15,1.356],
        [41.15,1.37],[41.25,1.358],[41.35,1.3655],[41.5,1.3775],[41.6,1.3625],[41.8,1.372],[41.9,1.3805],[42.05,1.3595],[42.25,1.374],[42.45,1.363],[42.55,1.379],[42.7,1.3565],[42.85,1.371],[43.05,1.3665],[43.2,1.3785],[43.4,1.362],[43.5,1.37],[43.65,1.3575],[43.8,1.375],[43.95,1.3645],[44.1,1.36],[44.25,1.379],[44.4,1.368],[44.55,1.361],[44.7,1.3755],[44.85,1.383],[45.0,1.364],[45.1,1.357],[45.3,1.371],[45.45,1.38],[45.6,1.36],[45.75,1.3675],[45.9,1.384],[46.05,1.3585],[46.2,1.374],[46.35,1.363],[46.5,1.3795],[46.65,1.3705],[46.8,1.3565],[46.95,1.376],[47.1,1.364],[47.25,1.385],[47.4,1.37],[47.55,1.359],[47.7,1.377],[47.85,1.366],[48.0,1.386],[48.15,1.36],[48.3,1.373],[48.45,1.382],[48.6,1.358],[48.75,1.371],[48.9,1.3795],[49.05,1.365],[49.2,1.3875],[49.35,1.361],[49.5,1.375],[49.65,1.357],[49.8,1.383],[49.95,1.368],[50.1,1.361],[50.25,1.386],[50.4,1.374],[50.55,1.358],[50.7,1.37],[50.85,1.382],[51.0,1.364],[51.1,1.376],[51.18,1.388],[44.0,1.3705],[46.0,1.372],[48.0,1.369],[50.0,1.37]];

      // axis titles (rich text)
      const T12 = "{b|θ}{sz|o}{sub|12}";
      const T23 = "{b|θ}{sz|o}{sub|23}";
      const RHO = "{b|ρ}{sup|o}";
      const SIG = "{b|σ}{sup|o}";
      const DEL = "{b|δ}{sup|o}";

      const rowTop = [65, 215, 365, 515, 665];
      const rowH = [74, 74, 75, 74, 75];
      const colLeft = [161, 498, 835];
      const colW = [252, 251, 250];

      // y spec: [min, max, ticks, name, nameGap, labels]
      const panels = [
        { data: t12Rho, x: [31.4, 37.5, t12Ticks, T12, 30], y: [95.5, 107.6, rhoTicks, RHO, 34, rhoLabelsOdd], y2: rhoLabelsEven },
        { data: t12Sigma, x: [31.4, 37.45, t12Ticks, T12, 30], y: [14.2, 46.6, sigmaTicks, SIG, 33] },
        { data: t12Delta, x: [31.4, 37.45, t12Ticks, T12, 30], y: [200.8, 245.6, deltaYTicks, DEL, 40] },
        { data: t23Rho, x: [41.1, 51.2, t23Ticks, T23, 30], y: [95.5, 107.6, rhoTicks, RHO, 34, rhoLabelsOdd], y2: rhoLabelsEven },
        { data: t23Sigma, x: [41.1, 51.2, t23Ticks, T23, 30], y: [14.2, 46.6, sigmaTicks, SIG, 33] },
        { data: t23Delta, x: [41.1, 51.2, t23Ticks, T23, 30], y: [200.8, 245.6, deltaYTicks, DEL, 40] },
        { data: rhoSigma, x: [95.25, 107.85, rhoTicks, RHO, 30], y: [14.0, 47.0, sigmaTicks, SIG, 33] },
        { data: rhoDelta, x: [95.25, 107.85, rhoTicks, RHO, 30], y: [200.8, 245.6, deltaYTicks, DEL, 30] },
        { data: sigmaDelta, x: [14.2, 46.6, sigmaTicks, SIG, 30], y: [200.8, 245.6, deltaYTicks, DEL, 40] },
        { data: deltaJ, x: [200.2, 244.6, deltaXTicks, DEL, 30], y: [-0.032, -0.0098, jTicks, "{m|J}", 44], upright: true },
        { data: deltaMee, x: [200.1, 244.8, deltaXTicks, DEL, 30], y: [0.03, 0.0378, meeTicks, "{m|m}{msub|ee}{m|(eV)}", 48] },
        { data: deltaM2, x: [199.9, 244.8, deltaXTicks, DEL, 30], y: [0.07085, 0.07511, m2YTicks, "{m|m}{msub|2}{m|(eV)}", 56] },
        { data: m2Mee, x: [0.07072, 0.07516, m2XTicks, "{m|m}{msub|2}", 30], y: [0.03, 0.0378, meeTicks, "{m|m}{msub|ee}{m| (eV)}", 42] },
        { data: m3M21, x: [0.0506, 0.05514, m3Ticks, "{m|m}{msub|3}{m| (eV)}", 30], y: [1.00628, 1.00814, m21Ticks, "{m|m}{msub|21}", 54] },
        { data: t23M13, x: [41.1, 51.2, t23Ticks, T23, 30], y: [1.3525, 1.39, m13Ticks, "{m|m}{msub|13}", 48] }
      ];

      const font = "Liberation Sans";
      const rich = {
        b: { fontSize: 18, fontFamily: font, color: "#000", lineHeight: 22 },
        sup: { fontSize: 12, fontWeight: "bold", fontFamily: font, color: "#000", padding: [0, 0, 12, 0] },
        sz: { fontSize: 12, fontWeight: "bold", fontFamily: font, color: "#000", padding: [0, 0, 12, 0], width: 1 },
        sub: { fontSize: 13, fontWeight: "bold", fontFamily: font, color: "#000", padding: [14, 0, 0, 0] },
        m: { fontSize: 17, fontWeight: "bold", fontFamily: font, color: "#000", lineHeight: 22 },
        msub: { fontSize: 12, fontWeight: "bold", fontFamily: font, color: "#000", padding: [12, 0, 0, 0] }
      };
      const fmt = (v) => String(v).replace("-", "\u2212");

      // mode: "main" = line, ticks, labels, name; "mirror" = line + ticks; "labels" = labels only
      function axis(i, spec, pos, mode, opts) {
        const [min, max, ticks, name, gap, labels] = spec;
        const vertical = pos === "left" || pos === "right";
        const a = {
          gridIndex: i,
          type: "value",
          position: pos,
          min: min,
          max: max,
          axisLine: { show: mode !== "labels", onZero: false, lineStyle: { color: "#000", width: 2 } },
          axisTick: { show: mode !== "labels", inside: true, length: 4, customValues: ticks, lineStyle: { color: "#000", width: 1.5 } },
          axisLabel: {
            show: mode !== "mirror",
            customValues: mode === "labels" ? opts.labels : (labels || ticks),
            formatter: fmt,
            fontSize: 15,
            fontWeight: "bold",
            fontFamily: font,
            color: "#000",
            margin: vertical ? 4 : 9
          },
          splitLine: { show: false },
          name: mode === "main" ? name : "",
          nameLocation: "middle",
          nameGap: gap,
          nameTextStyle: { rich: rich }
        };
        if (opts && opts.upright) {
          a.nameRotate = 0;
          a.nameMoveOverlap = false;
        }
        return a;
      }

      const grid = [], xAxis = [], yAxis = [], series = [];
      panels.forEach((p, i) => {
        const r = Math.floor(i / 3), c = i % 3;
        grid.push({ left: colLeft[c], top: rowTop[r], width: colW[c], height: rowH[r] });
        const xi = xAxis.length, yi = yAxis.length;
        xAxis.push(axis(i, p.x, "bottom", "main"));
        xAxis.push(axis(i, p.x, "top", "mirror"));
        yAxis.push(axis(i, p.y, "left", "main", { upright: p.upright }));
        yAxis.push(axis(i, p.y, "right", "mirror"));
        if (p.y2) yAxis.push(axis(i, p.y, "left", "labels", { labels: p.y2 }));
        series.push({
          type: "scatter",
          xAxisIndex: xi,
          yAxisIndex: yi,
          data: p.data,
          symbol: "circle",
          symbolSize: 2.2,
          itemStyle: { color: "#1a1aff", opacity: 0.85 },
          silent: true
        });
      });

      let myChart = echarts.init(document.getElementById("main"));
      myChart.setOption({
        backgroundColor: "#fff",
        animation: false,
        grid: grid,
        xAxis: xAxis,
        yAxis: yAxis,
        series: series
      });
    </script>
  </body>
</html>
